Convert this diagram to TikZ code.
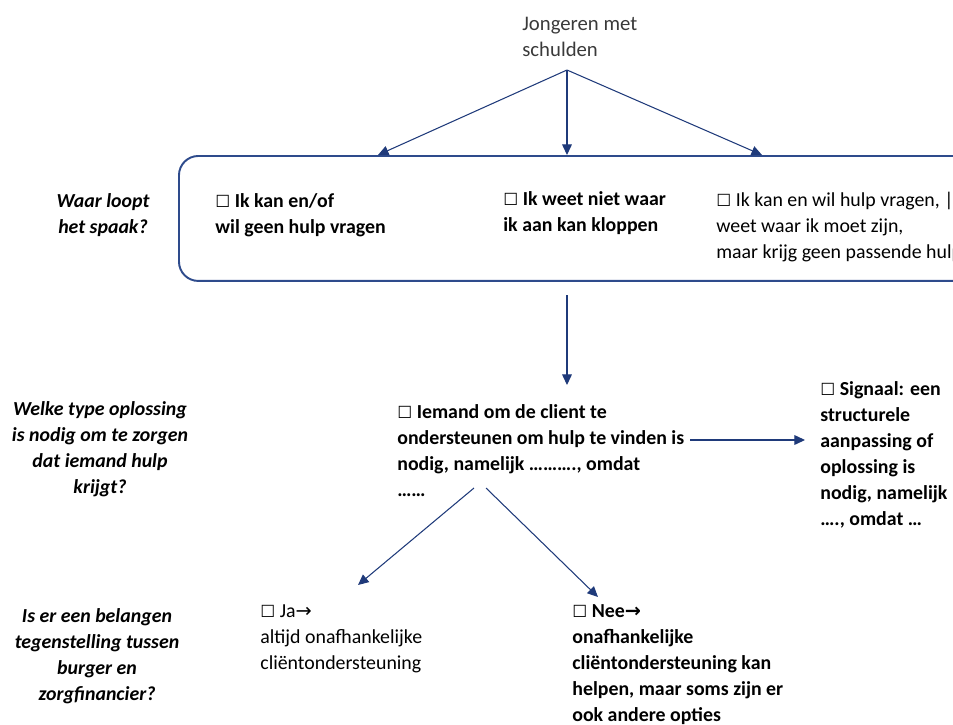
\documentclass[tikz,border=0pt]{standalone}
\usepackage{fontspec}
\setmainfont{Carlito}
\newfontfamily\symfont{DejaVu Sans}
\usetikzlibrary{arrows.meta}
\definecolor{navy}{HTML}{1F3A7A}
\definecolor{frameblue}{HTML}{2E4B8C}
\definecolor{softgrey}{HTML}{3A3A3A}
\newcommand{\basefont}{\fontsize{11.3}{14.7}\selectfont}
\newcommand{\chk}{{\symfont\fontsize{9.5}{10}\selectfont ☐}}
\newcommand{\toarr}{{\symfont\fontsize{11}{10}\selectfont →}}
\tikzstyle{flow arrow}=[draw=navy, line width=0.6pt, -{Triangle[length=6pt,width=5.5pt]}]
\tikzstyle{panel}=[draw=frameblue, line width=1.1pt, rounded corners=11pt]
\tikzstyle{question label}=[font=\basefont\bfseries\itshape, align=center, anchor=base, inner sep=0pt]
\tikzstyle{option text}=[font=\basefont, align=left, anchor=base west, inner sep=0pt]
\tikzstyle{option bold}=[option text, font=\basefont\bfseries]

\begin{document}
\begin{tikzpicture}[x=0.02cm, y=-0.02cm]
          \useasboundingbox (0,0) rectangle (953,724);
          \clip (0,0) rectangle (953,724);

          % top (nodes sit on the baseline of their last line)
          \node[option text, text=softgrey, font=\fontsize{11.8}{14.7}\selectfont] (src) at (522,56)
            {Jongeren met\\schulden};
          \node[panel, anchor=north west, minimum width=17cm, minimum height=2.5cm] (box) at (178,155) {};
          \coordinate (fork) at (567,70);
          \coordinate (hit left) at (378,155);
          \coordinate (hit mid) at (567,155);
          \coordinate (hit right) at (762,155);
          \draw[flow arrow] (fork) -- (hit left);
          \draw[flow arrow] (fork) -- (hit mid);
          \draw[flow arrow] (fork) -- (hit right);

          % questions
          \node[question label] (ask spaak) at (103,233) {Waar loopt\\het spaak?};
          \node[question label] (ask type) at (100,493)
            {Welke type oplossing\\is nodig om te zorgen\\dat iemand hulp\\krijgt?};
          \node[question label] (ask belang) at (97,700)
            {Is er een belangen\\tegenstelling tussen\\burger en\\zorgfinancier?};

          % inside the panel
          \node[option bold] (no ask) at (215,233) {\chk{} Ik kan en/of\\wil geen hulp vragen};
          \node[option bold] (no door) at (503,231) {\chk{} Ik weet niet waar\\ik aan kan kloppen};
          \node[option text] (no fit) at (716,258)
            {\chk{} Ik kan en wil hulp vragen, |\\weet waar ik moet zijn,\\maar krijg geen passende hulp};

          % solution
          \node[option bold] (someone) at (397,496)
            {\chk{} Iemand om de client te\\ondersteunen om hulp te vinden is\\nodig, namelijk \dots\dots\dots., omdat\\\dots\dots};
          \node[option bold] (signal) at (820,525)
            {\chk{} Signaal: een\\structurele\\aanpassing of\\oplossing is\\nodig, namelijk\\\dots., omdat \dots};
          \coordinate (drop) at (567,295);
          \coordinate (land) at (567,385);
          \draw[flow arrow] (drop) -- (land);
          \coordinate (side out) at (690,440);
          \coordinate (side in) at (805,440);
          \draw[flow arrow] (side out) -- (side in);

          % conflict of interest
          \node[option text] (yes) at (260,669) {\chk{} Ja\toarr\\altijd onafhankelijke\\cliëntondersteuning};
          \node[option bold] (no) at (572,721)
            {\chk{} Nee\toarr\\onafhankelijke\\cliëntondersteuning kan\\helpen, maar soms zijn er\\ook andere opties};
          \coordinate (split left) at (474,488);
          \coordinate (split right) at (486,488);
          \coordinate (yes tip) at (358,585);
          \coordinate (no tip) at (598,597);
          \draw[flow arrow] (split left) -- (yes tip);
          \draw[flow arrow] (split right) -- (no tip);
        \end{tikzpicture}
\end{document}
